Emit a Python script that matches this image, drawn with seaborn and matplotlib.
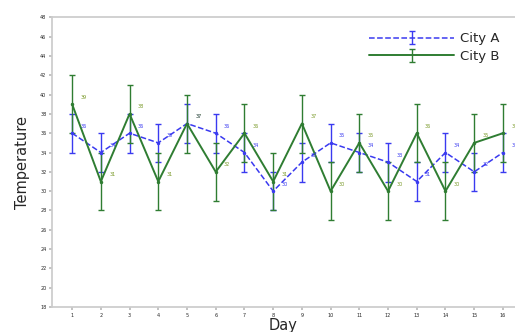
import pandas as pd
import matplotlib
matplotlib.use("Agg")
import matplotlib.pyplot as plt
import seaborn as sns

###############################################################################
# Data
###############################################################################
days = list(range(1, 17))
city_a = [36, 34, 36, 35, 37, 36, 34, 30, 33, 35, 34, 33, 31, 34, 32, 34]
city_b = [39, 31, 38, 31, 37, 32, 36, 31, 37, 30, 35, 30, 36, 30, 35, 36]
err_a = [2] * 16
err_b = [3] * 16
y_ticks = list(range(18, 49, 2))

df = pd.DataFrame({"Day": days, "City A": city_a, "City B": city_b})

###############################################################################
# Plot
###############################################################################
sns.set_theme(style="white")
plt.rcParams["font.family"] = ["DejaVu Sans"]

fig, ax = plt.subplots(figsize=(5.15, 3.32), dpi=100)
fig.subplots_adjust(left=0.101, right=1.0, bottom=0.075, top=0.948)

blue = "#3a3af0"
green = "#2f7d32"

ax.errorbar(df["Day"], df["City A"], yerr=err_a, fmt="--", color=blue,
            lw=1.1, elinewidth=1.0, capsize=2, label="City A")
ax.errorbar(df["Day"], df["City B"], yerr=err_b, fmt="-", color=green,
            lw=1.4, elinewidth=1.0, capsize=2, label="City B")
sns.lineplot(data=df, x="Day", y="City A", color=blue, linestyle="none",
             marker="o", markersize=2.5, markeredgewidth=0, ax=ax, legend=False)
sns.lineplot(data=df, x="Day", y="City B", color=green, linestyle="none",
             marker="o", markersize=2.5, markeredgewidth=0, ax=ax, legend=False)

# value labels next to each point
for d, a, b in zip(days, city_a, city_b):
    ax.annotate(str(a), (d, a), xytext=(6, 4), textcoords="offset points",
                fontsize=3.5, color=blue)
    ax.annotate(str(b), (d, b), xytext=(6, 4), textcoords="offset points",
                fontsize=3.5, color="#7a9a2a")

ax.set_ylim(18, 48)
ax.set_xlim(0.3, 16.42)
ax.set_yticks(y_ticks)
ax.set_xticks(days)
ax.tick_params(axis="both", labelsize=3.5, length=2, color="#bbbbbb",
               left=True, bottom=True, pad=2)
ax.set_xlabel("Day", fontsize=10.5, labelpad=0)
ax.set_ylabel("Temperature", fontsize=10.5, labelpad=7)
for s in ax.spines.values():
    s.set_color("#cccccc")
ax.spines["right"].set_visible(False)

ax.legend(loc="upper right", fontsize=9.5, frameon=False,
          handlelength=6.4, borderpad=0.3, labelspacing=0.35,
          handletextpad=0.5, borderaxespad=0.85)

plt.savefig("out.png", dpi=100)
